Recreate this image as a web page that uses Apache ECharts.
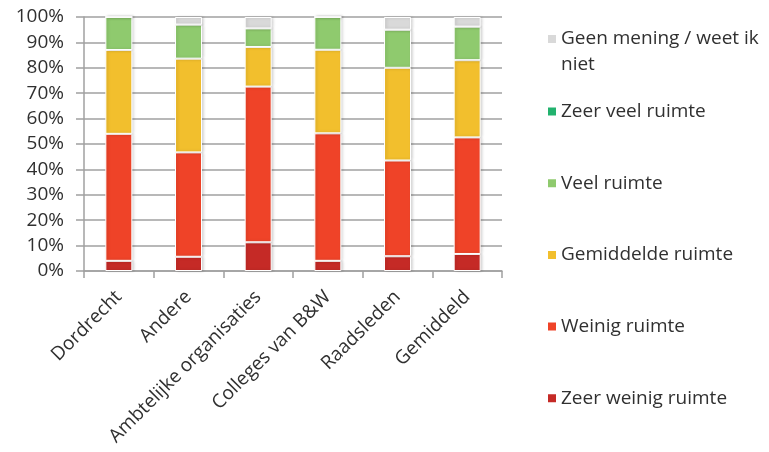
<!DOCTYPE html>
<html><head><meta charset="utf-8">
<script src="https://cdn.jsdelivr.net/npm/echarts@6/dist/echarts.min.js"></script>
<style>html,body{margin:0;padding:0;background:#fff}#c{width:769px;height:452px}</style>
</head><body><div id="c"></div>
<script>
const categories = ['Dordrecht', 'Andere', 'Ambtelijke organisaties', 'Colleges van B&W', 'Raadsleden', 'Gemiddeld'];
const zeerWeinig = [4, 5.6, 11.3, 4, 5.8, 6.7];
const weinig = [50, 41.1, 61.3, 50.2, 37.7, 45.9];
const gemiddelde = [33, 36.9, 15.6, 32.9, 36.5, 30.4];
const veel = [13, 13.4, 7.3, 12.9, 15, 13.2];
const zeerVeel = [0, 0, 0, 0, 0, 0];
const geenMening = [0, 3, 4.5, 0, 5, 3.8];
const yTicks = [0, 10, 20, 30, 40, 50, 60, 70, 80, 90, 100];

const seriesDefs = [
  { name: 'Zeer weinig ruimte', data: zeerWeinig, color: '#c52a26' },
  { name: 'Weinig ruimte', data: weinig, color: '#ef4328' },
  { name: 'Gemiddelde ruimte', data: gemiddelde, color: '#f2bf2d' },
  { name: 'Veel ruimte', data: veel, color: '#8fca6e' },
  { name: 'Zeer veel ruimte', data: zeerVeel, color: '#22b26e' },
  { name: 'Geen mening / weet ik niet', data: geenMening, color: '#d9d9d9' }
];

const font = 'Open Sans';
const txt = '#303030';
const fs = 19;
const chart = echarts.init(document.getElementById('c'));
chart.setOption({
  animation: false,
  textStyle: { fontFamily: font },
  grid: { left: 84, right: 267, top: 17, bottom: 181 },
  legend: [
    {
      data: ['Geen mening / weet ik niet'],
      orient: 'vertical', left: 546, top: 0, padding: 0,
      icon: 'rect', itemWidth: 10, itemHeight: 10, itemGap: 10,
      selectedMode: false,
      formatter: () => '\nGeen mening / weet ik\nniet',
      textStyle: { fontFamily: font, fontSize: fs, color: txt, lineHeight: 26, padding: [0, 0, 0, -1] }
    },
    {
      data: ['Zeer veel ruimte', 'Veel ruimte', 'Gemiddelde ruimte', 'Weinig ruimte', 'Zeer weinig ruimte'],
      orient: 'vertical', left: 546, top: 99.5, padding: 0,
      icon: 'rect', itemWidth: 10, itemHeight: 10, itemGap: 47.7,
      selectedMode: false,
      textStyle: { fontFamily: font, fontSize: fs, color: txt, lineHeight: 24, padding: [0, 0, 0, -1] }
    }
  ],
  xAxis: {
    type: 'category',
    data: categories,
    axisLine: { lineStyle: { color: '#a0a0a0', width: 1.5 } },
    axisTick: { show: true, length: 7, alignWithLabel: false, lineStyle: { color: '#a0a0a0', width: 1.5 } },
    axisLabel: { rotate: 45, margin: 23, interval: 0, fontSize: fs, color: txt, fontFamily: font }
  },
  yAxis: {
    type: 'value',
    min: yTicks[0], max: yTicks[yTicks.length - 1], interval: 10,
    axisLine: { show: true, lineStyle: { color: '#a0a0a0', width: 1.5 } },
    axisTick: { show: true, length: 8, lineStyle: { color: '#a0a0a0', width: 1.5 } },
    splitLine: { show: true, lineStyle: { color: '#a0a0a0', width: 1.5 } },
    axisLabel: { formatter: '{value}%', margin: 20, fontSize: fs, color: txt, fontFamily: font }
  },
  series: seriesDefs.map(s => ({
    name: s.name,
    type: 'bar',
    stack: 'total',
    barWidth: 27,
    data: s.data,
    itemStyle: {
      color: s.color,
      borderColor: '#ffffff', borderWidth: 1,
      shadowBlur: 3, shadowOffsetX: 1.5, shadowOffsetY: 0, shadowColor: 'rgba(0,0,0,0.18)'
    }
  }))
});
</script></body></html>
